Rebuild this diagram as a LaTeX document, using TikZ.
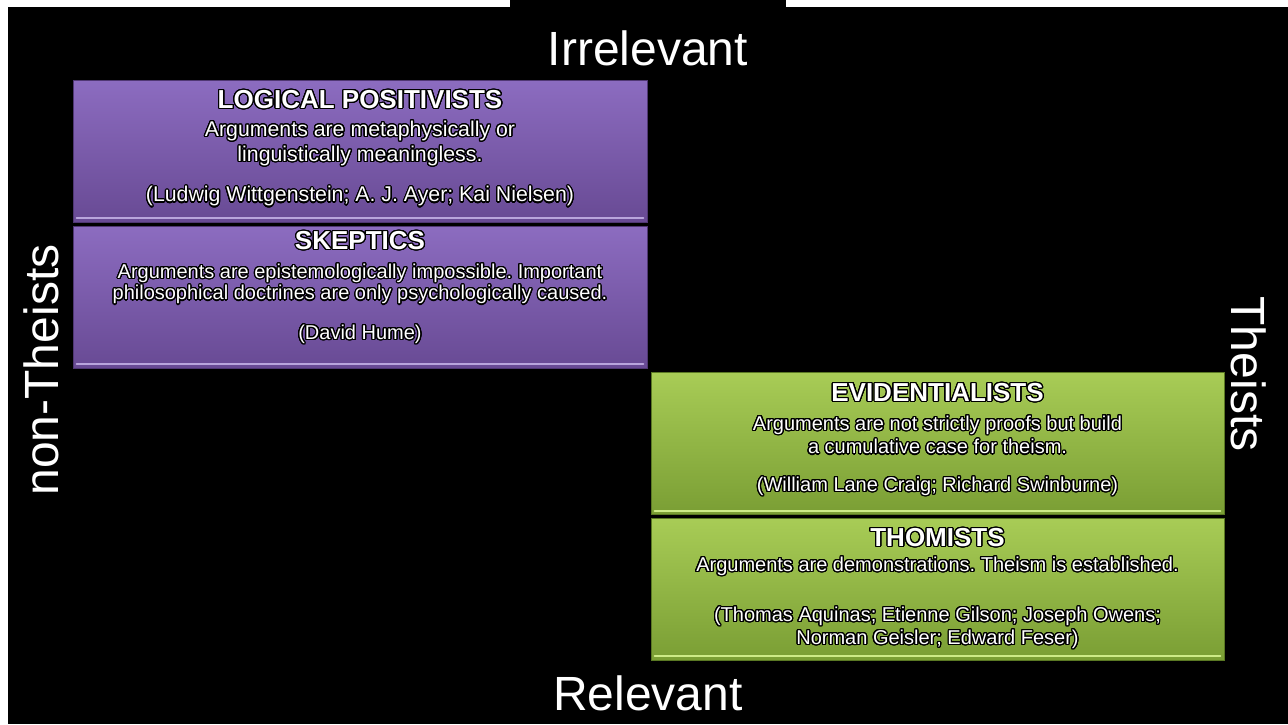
\documentclass[tikz,border=0pt]{standalone}
\usepackage{fontspec}
\setmainfont{Liberation Sans}
\usepackage{contour}
\contourlength{1.2pt}
\contournumber{24}
\frenchspacing
\definecolor{ptop}{RGB}{140,108,192}
\definecolor{pbot}{RGB}{104,74,148}
\definecolor{plight}{RGB}{185,165,220}
\definecolor{pedge}{RGB}{80,55,115}
\definecolor{gtop}{RGB}{168,204,86}
\definecolor{gbot}{RGB}{122,158,52}
\definecolor{glight}{RGB}{205,235,135}
\definecolor{gedge}{RGB}{90,120,35}
\newcommand{\ol}[1]{\contour{black}{#1}}
\begin{document}
\begin{tikzpicture}[x=1pt,y=-1pt,
  pbox/.style={rectangle, minimum width=574pt, minimum height=142pt, inner sep=0pt,
    draw=pedge, line width=0.8pt, top color=ptop, bottom color=pbot},
  gbox/.style={rectangle, minimum width=573pt, minimum height=142pt, inner sep=0pt,
    draw=gedge, line width=0.8pt, top color=gtop, bottom color=gbot},
  phl/.style={draw=plight, line width=2pt, line cap=round},
  ghl/.style={draw=glight, line width=2pt, line cap=round},
  ttl/.style={text=white, inner sep=0pt, font=\fontsize{26}{28}\selectfont\bfseries},
  body/.style={text=white, inner sep=0pt, align=center, font=\fontsize{20}{23}\selectfont},
  bodyL/.style={text=white, inner sep=0pt, align=center, font=\fontsize{21.3}{25}\selectfont},
  big/.style={text=white, inner sep=0pt, font=\fontsize{48}{52}\selectfont}
]
\useasboundingbox (0,0) rectangle (1288,724);
\fill[white] (0,0) rectangle (1288,724);
\fill[black] (8,7) rectangle (1288,724);
\fill[black] (510,0) rectangle (786,7);

% boxes
\node[pbox] (lp) at (360,151) {};
\node[pbox] (sk) at (360,297) {};
\node[gbox] (ev) at (937.5,443.5) {};
\node[gbox] (th) at (937.5,589) {};
\foreach \b in {lp,sk}{
  \draw[phl] ([xshift=4pt,yshift=4pt]\b.south west) -- ([xshift=-4pt,yshift=4pt]\b.south east);
}
\foreach \b in {ev,th}{
  \draw[ghl] ([xshift=4pt,yshift=4pt]\b.south west) -- ([xshift=-4pt,yshift=4pt]\b.south east);
}

% Logical positivists
\node[ttl] (lpT) at (360,100) {\ol{LOGICAL POSITIVISTS}};
\node[bodyL] (lpD) at (360,144) {\ol{Arguments are metaphysically or}\\\ol{linguistically meaningless.}};
\node[bodyL] (lpN) at (360,197) {\ol{(Ludwig Wittgenstein; A. J. Ayer; Kai Nielsen)}};

% Skeptics
\node[ttl] (skT) at (360,241) {\ol{SKEPTICS}};
\node[body, font=\fontsize{20}{21.5}\selectfont] (skD) at (360,284.5) {\ol{Arguments are epistemologically impossible. Important}\\\ol{philosophical doctrines are only psychologically caused.}};
\node[body] (skN) at (360,335) {\ol{(David Hume)}};

% Evidentialists
\node[ttl] (evT) at (937.5,393) {\ol{EVIDENTIALISTS}};
\node[body, font=\fontsize{20}{23.5}\selectfont] (evD) at (937.5,435.5) {\ol{Arguments are not strictly proofs but build}\\\ol{a cumulative case for theism.}};
\node[body] (evN) at (937.5,487) {\ol{(William Lane Craig; Richard Swinburne)}};

% Thomists
\node[ttl] (thT) at (937.5,538) {\ol{THOMISTS}};
\node[body] (thD) at (937.5,567) {\ol{Arguments are demonstrations. Theism is established.}};
\node[body] (thN) at (937.5,628.5) {\ol{(Thomas Aquinas; Etienne Gilson; Joseph Owens;}\\\ol{Norman Geisler; Edward Feser)}};

% axis labels
\node[big] (irr) at (648,48) {Irrelevant};
\node[big] (rel) at (648,693) {Relevant};
\node[big, rotate=90] (nth) at (41,370) {non-Theists};
\node[big, rotate=-90] (the) at (1249,374) {Theists};
\end{tikzpicture}
\end{document}
